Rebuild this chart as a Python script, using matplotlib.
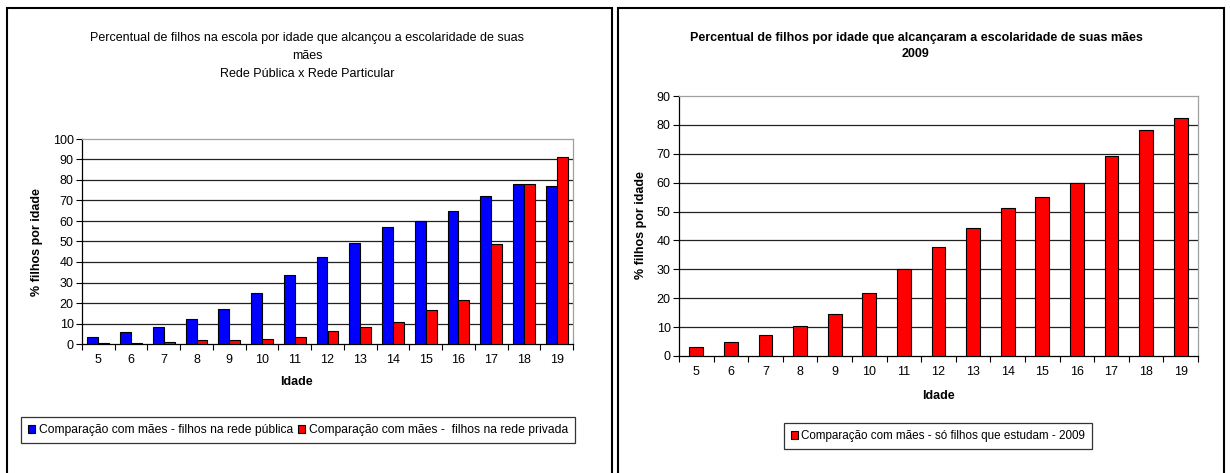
import matplotlib
matplotlib.use("Agg")
import matplotlib.pyplot as plt
from matplotlib.patches import Rectangle
import numpy as np

plt.rcParams['font.family'] = ['Liberation Sans', 'DejaVu Sans']

ages = [5, 6, 7, 8, 9, 10, 11, 12, 13, 14, 15, 16, 17, 18, 19]
publica = [3.5, 6, 8.5, 12, 17, 25, 33.5, 42.5, 49.5, 57, 60, 65, 72, 78, 77]
privada = [0.5, 0.5, 1, 1.8, 1.8, 2.5, 3.6, 6.5, 8.3, 10.8, 16.8, 21.7, 48.8, 78, 91]
estudam_2009 = [3, 5, 7.4, 10.5, 14.5, 21.8, 30, 37.7, 44.4, 51.3, 54.9, 59.8, 69.2, 78.4, 82.3]

title_left = "Percentual de filhos na escola por idade que alcançou a escolaridade de suas\nmães\nRede Pública x Rede Particular"
title_right = "Percentual de filhos por idade que alcançaram a escolaridade de suas mães\n2009"
leg_pub = "Comparação com mães - filhos na rede pública"
leg_priv = "Comparação com mães -  filhos na rede privada"
leg_2009 = "Comparação com mães - só filhos que estudam - 2009"
ylab = "% filhos por idade"
xlab = "Idade"

W, H = 1230, 473
fig = plt.figure(figsize=(W / 100, H / 100), dpi=100)

def fx(px):
    return px / W

def fy(py):
    return 1 - py / H

# panel borders
for x0, x1 in [(7, 612), (618, 1224)]:
    fig.patches.append(Rectangle((fx(x0), fy(480)), fx(x1) - fx(x0), fy(8) - fy(480),
                                 transform=fig.transFigure, fill=False,
                                 edgecolor='black', linewidth=1.5))

def style_axes(ax, ymax, n):
    ax.set_xlim(-0.5, n - 0.5)
    ax.set_ylim(0, ymax)
    ax.set_yticks(np.arange(0, ymax + 1, 10))
    ax.set_xticks(np.arange(n))
    ax.set_xticklabels([str(a) for a in ages])
    ax.set_xticks(np.arange(n + 1) - 0.5, minor=True)
    ax.tick_params(axis='x', which='major', length=0, pad=7, labelsize=9)
    ax.tick_params(axis='x', which='minor', length=4, direction='out', width=0.8)
    ax.tick_params(axis='y', length=4, direction='out', width=0.8, labelsize=9, pad=2)
    ax.spines['top'].set_color('#a0a0a0')
    ax.spines['right'].set_color('#a0a0a0')
    ax.spines['left'].set_color('black')
    ax.spines['bottom'].set_color('black')
    for s in ax.spines.values():
        s.set_linewidth(0.9)
    for v in np.arange(10, ymax, 10):
        ax.axhline(v, color='#222222', linewidth=0.9, zorder=0)

n = len(ages)
x = np.arange(n)

# Left chart
axL = fig.add_axes([fx(82), fy(344), fx(573) - fx(82), fy(139) - fy(344)])
bw = 1 / 3
bL1 = axL.bar(x - bw / 2, publica, bw, color='#0000FF', edgecolor='black', linewidth=0.8, zorder=3)
bL2 = axL.bar(x + bw / 2, privada, bw, color='#FF0000', edgecolor='black', linewidth=0.8, zorder=3)
style_axes(axL, 100, n)

# Right chart
axR = fig.add_axes([fx(679), fy(356), fx(1198) - fx(679), fy(96) - fy(356)])
bR = axR.bar(x, estudam_2009, 0.4, color='#FF0000', edgecolor='black', linewidth=0.8, zorder=3)
style_axes(axR, 90, n)

# Titles
fig.text(fx(307), fy(56), title_left, ha='center', va='center', fontsize=9, linespacing=1.65)
fig.text(fx(916), fy(46), title_right, ha='center', va='center', fontsize=9,
         fontweight='bold', linespacing=1.45)

# Axis labels
fig.text(fx(37), fy(242), ylab, rotation=90, ha='center', va='center', fontsize=9, fontweight='bold')
fig.text(fx(641), fy(225), ylab, rotation=90, ha='center', va='center', fontsize=9, fontweight='bold')
fig.text(fx(296), fy(382), xlab, ha='center', va='center', fontsize=9, fontweight='bold')
fig.text(fx(938), fy(396), xlab, ha='center', va='center', fontsize=9, fontweight='bold')

# Legends
legL = fig.legend([bL1, bL2], [leg_pub, leg_priv], loc='center', bbox_to_anchor=(fx(298), fy(430)),
                  ncol=2, fontsize=8.7, frameon=True, fancybox=False, edgecolor='black',
                  handlelength=0.6, handleheight=0.6, handletextpad=0.3, columnspacing=0.4,
                  borderpad=0.6, borderaxespad=0)
legL.get_frame().set_linewidth(0.9)
legR = fig.legend([bR], [leg_2009], loc='center', bbox_to_anchor=(fx(938), fy(436)),
                  ncol=1, fontsize=8.4, frameon=True, fancybox=False, edgecolor='black',
                  handlelength=0.6, handleheight=0.6, handletextpad=0.3,
                  borderpad=0.6, borderaxespad=0)
legR.get_frame().set_linewidth(0.9)

fig.savefig("out.png", dpi=100)
